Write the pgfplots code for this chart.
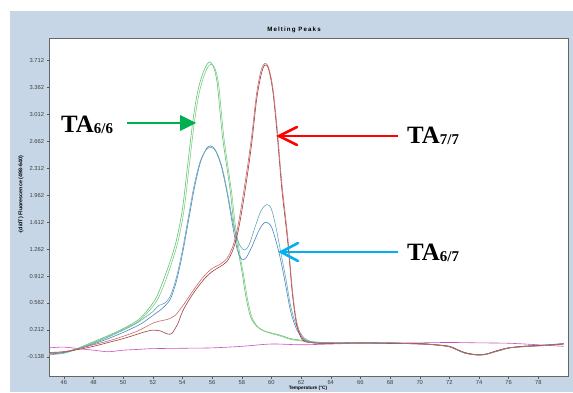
\documentclass[border=0pt]{standalone}
\usepackage{pgfplots}
\pgfplotsset{compat=1.18}
\usepackage{fontspec}
\setmainfont{Liberation Sans}
\newfontfamily\serifb{Liberation Serif}
\newfontfamily\titlefont[LetterSpace=18]{Liberation Sans}
\definecolor{panel}{HTML}{C6D6E6}
\definecolor{gA}{HTML}{5DC46E}
\definecolor{gB}{HTML}{7FCB86}
\definecolor{bA}{HTML}{4A86C4}
\definecolor{bB}{HTML}{6AA6B6}
\definecolor{rA}{HTML}{A03C3C}
\definecolor{rB}{HTML}{C86A6A}
\definecolor{mg}{HTML}{C850C0}
\definecolor{arrG}{HTML}{00B050}
\definecolor{arrR}{HTML}{FF0000}
\definecolor{arrB}{HTML}{00B0F0}
\begin{document}
\begin{tikzpicture}[x=1bp,y=1bp]
\useasboundingbox (0,0) rectangle (573,392);
\fill[panel] (10,0) rectangle (573,381);
\node[font=\titlefont\fontsize{6.2}{7}\selectfont\bfseries] at (294,362) {Melting Peaks};
\node[font=\fontsize{5.4}{6}\selectfont\bfseries, rotate=90] at (21,197) {-(d/dT) Fluorescence (498-640)};
\node[font=\fontsize{4.8}{5}\selectfont\bfseries, anchor=south, inner sep=0pt] at (308,1) {Temperature (\textdegree C)};
\begin{axis}[
  at={(49bp,16bp)}, anchor=south west,
  width=519bp, height=338bp, scale only axis,
  xmin=45, xmax=80, ymin=-0.385, ymax=4.0,
  axis background/.style={fill=white},
  axis line style={draw=gray!80!black, line width=0.8pt},
  xtick={46,48,...,78},
  xticklabels={46,48,50,52,54,56,58,60,62,64,66,68,70,72,74,76,78},
  ytick={-0.138,0.212,0.562,0.912,1.262,1.612,1.962,2.312,2.662,3.012,3.362,3.712},
  yticklabels={-0.138,0.212,0.562,0.912,1.262,1.612,1.962,2.312,2.662,3.012,3.362,3.712},
  tick align=outside, tick pos=left,
  major tick length=2.5bp,
  tick style={draw=gray!70!black, line width=0.4pt},
  ticklabel style={font=\fontsize{5.8}{6.5}\selectfont, text=black!75},
  xticklabel style={yshift=2bp},
  yticklabel style={xshift=1bp},
  every axis plot/.append style={line width=0.6pt, smooth, tension=0.5},
]
% magenta baseline
\addplot[mg] coordinates {(45,-0.02)(46,-0.01)(47,-0.03)(48,-0.05)(49,-0.07)(50,-0.05)(51,-0.04)(52,-0.03)(54,-0.025)(56,-0.02)(58,0.0)(60,0.03)(62,0.02)(64,0.03)(66,0.04)(68,0.04)(70,0.045)(72,0.05)(74,0.045)(76,0.04)(78,0.02)(79.7,0.0)};
% green TA6/6
\addplot[gA] coordinates {(45,-0.10)(46,-0.08)(47,-0.02)(48,0.06)(49,0.14)(50,0.23)(51,0.34)(51.6,0.46)(52.2,0.62)(52.7,0.85)(53.2,1.12)(53.6,1.38)(54.0,1.78)(54.35,2.35)(54.7,2.92)(55.0,3.28)(55.3,3.50)(55.6,3.64)(55.85,3.69)(56.1,3.62)(56.35,3.40)(56.7,2.72)(57.2,2.05)(57.45,1.62)(57.75,1.25)(58.0,0.98)(58.3,0.62)(58.6,0.38)(59.0,0.26)(59.5,0.20)(60.5,0.15)(61.3,0.10)(62,0.08)(62.8,0.06)(64,0.045)(66,0.045)(68,0.045)(70,0.035)(71,0.025)(72,0.0)(72.5,-0.04)(73,-0.08)(73.5,-0.10)(74,-0.11)(74.5,-0.10)(75,-0.07)(75.5,-0.045)(76,-0.02)(77,0.0)(78,0.01)(79,0.025)(79.7,0.035)};
\addplot[gB] coordinates {(45,-0.09)(46,-0.08)(47,-0.03)(48,0.05)(49,0.13)(50,0.22)(51,0.32)(51.7,0.45)(52.3,0.60)(52.8,0.82)(53.3,1.10)(53.7,1.36)(54.1,1.76)(54.45,2.33)(54.8,2.90)(55.1,3.26)(55.4,3.48)(55.7,3.62)(55.95,3.66)(56.2,3.60)(56.45,3.38)(56.8,2.70)(57.3,2.02)(57.55,1.60)(57.85,1.22)(58.1,0.95)(58.4,0.60)(58.7,0.37)(59.1,0.25)(59.6,0.19)(60.5,0.14)(61.3,0.09)(62,0.07)(62.8,0.05)(64,0.04)(66,0.04)(68,0.04)(70,0.03)(71,0.02)(72,-0.005)(72.5,-0.045)(73,-0.085)(73.5,-0.105)(74,-0.115)(74.5,-0.105)(75,-0.075)(75.5,-0.05)(76,-0.025)(77,-0.005)(78,0.005)(79,0.02)(79.7,0.03)};
% blue TA6/7
\addplot[bA] coordinates {(45,-0.10)(46,-0.08)(47,-0.03)(48,0.03)(49,0.10)(50,0.18)(51,0.27)(51.5,0.33)(52,0.40)(52.5,0.47)(52.8,0.52)(53.2,0.62)(53.6,0.85)(54.0,1.20)(54.4,1.62)(54.8,2.05)(55.2,2.38)(55.6,2.56)(55.9,2.60)(56.2,2.55)(56.6,2.35)(57.0,2.00)(57.4,1.55)(57.7,1.25)(58.0,1.13)(58.3,1.15)(58.7,1.30)(59.1,1.48)(59.4,1.58)(59.65,1.61)(60.0,1.55)(60.4,1.30)(60.7,1.05)(61.0,0.75)(61.3,0.45)(61.7,0.22)(62.2,0.09)(62.7,0.05)(63.2,0.04)(64,0.04)(66,0.045)(68,0.04)(70,0.03)(71,0.02)(72,-0.005)(72.5,-0.045)(73,-0.085)(73.5,-0.105)(74,-0.11)(74.5,-0.10)(75,-0.07)(75.5,-0.045)(76,-0.02)(77,0.0)(78,0.01)(79,0.025)(79.7,0.035)};
\addplot[bB] coordinates {(45,-0.11)(46,-0.09)(47,-0.03)(48,0.04)(49,0.12)(50,0.21)(51,0.31)(51.5,0.38)(52,0.45)(52.4,0.53)(52.8,0.56)(53.2,0.66)(53.6,0.90)(54.0,1.25)(54.4,1.68)(54.8,2.10)(55.2,2.40)(55.6,2.55)(55.95,2.58)(56.3,2.52)(56.7,2.30)(57.1,1.93)(57.5,1.52)(57.9,1.30)(58.2,1.25)(58.5,1.32)(58.9,1.55)(59.3,1.76)(59.7,1.84)(60.0,1.78)(60.3,1.55)(60.6,1.25)(61.0,0.85)(61.3,0.52)(61.7,0.26)(62.2,0.11)(62.7,0.06)(63.2,0.045)(64,0.045)(66,0.04)(68,0.045)(70,0.035)(71,0.02)(72,0.0)(72.5,-0.04)(73,-0.08)(73.5,-0.10)(74,-0.115)(74.5,-0.105)(75,-0.075)(75.5,-0.05)(76,-0.02)(77,0.0)(78,0.01)(79,0.02)(79.7,0.03)};
% red TA7/7
\addplot[rA] coordinates {(45,-0.08)(46,-0.07)(47,-0.04)(48,0.0)(49,0.05)(50,0.10)(51,0.16)(51.5,0.19)(52,0.21)(52.5,0.20)(53.0,0.16)(53.3,0.17)(53.7,0.30)(54.0,0.45)(54.5,0.62)(55.0,0.76)(55.5,0.88)(56.0,0.97)(56.5,1.03)(57.0,1.10)(57.4,1.25)(57.7,1.45)(58.0,1.75)(58.4,2.25)(58.7,2.68)(59.0,3.20)(59.3,3.52)(59.55,3.65)(59.8,3.60)(60.1,3.30)(60.4,2.72)(60.7,2.04)(61.1,1.35)(61.4,0.70)(61.7,0.28)(62.1,0.08)(62.6,0.05)(63.2,0.04)(64,0.04)(66,0.045)(68,0.04)(70,0.035)(71,0.02)(72,0.0)(72.5,-0.04)(73,-0.08)(73.5,-0.10)(74,-0.11)(74.5,-0.10)(75,-0.07)(75.5,-0.04)(76,-0.02)(77,0.0)(78,0.01)(79,0.02)(79.7,0.03)};
\addplot[rB] coordinates {(45,-0.09)(46,-0.07)(47,-0.03)(48,0.02)(49,0.07)(50,0.13)(51,0.20)(51.5,0.25)(52,0.30)(52.5,0.33)(53.0,0.35)(53.5,0.40)(54.0,0.52)(54.5,0.66)(55.0,0.80)(55.5,0.92)(56.0,1.01)(56.5,1.06)(57.0,1.14)(57.4,1.30)(57.7,1.52)(58.0,1.85)(58.4,2.35)(58.7,2.78)(59.0,3.28)(59.3,3.58)(59.55,3.67)(59.8,3.62)(60.1,3.35)(60.4,2.80)(60.7,2.12)(61.1,1.42)(61.4,0.76)(61.7,0.32)(62.1,0.10)(62.6,0.05)(63.2,0.045)(64,0.045)(66,0.04)(68,0.045)(70,0.03)(71,0.02)(72,-0.005)(72.5,-0.045)(73,-0.085)(73.5,-0.105)(74,-0.11)(74.5,-0.10)(75,-0.075)(75.5,-0.045)(76,-0.02)(77,-0.005)(78,0.005)(79,0.02)(79.7,0.035)};
\end{axis}
% annotations
\draw[arrG, line width=2.6bp] (127,269) -- (182,269);
\fill[arrG] (196,269) -- (180,277) -- (180,261) -- cycle;
\node[anchor=base west, inner sep=0pt] at (61,260) {\serifb\bfseries\fontsize{25}{25}\selectfont TA\fontsize{15}{15}\selectfont\raisebox{-1.5bp}{6/6}};
\draw[arrR, line width=2.6bp] (398,256) -- (280,256);
\draw[arrR, line width=2.6bp, line cap=round] (297,265) -- (279,256) -- (297,247);
\node[anchor=base west, inner sep=0pt] at (407,249) {\serifb\bfseries\fontsize{25}{25}\selectfont TA\fontsize{15}{15}\selectfont\raisebox{-1.5bp}{7/7}};
\draw[arrB, line width=2.6bp] (398,140) -- (282,140);
\draw[arrB, line width=2.6bp, line cap=round] (298,149) -- (281,140) -- (298,131);
\node[anchor=base west, inner sep=0pt] at (407,132) {\serifb\bfseries\fontsize{25}{25}\selectfont TA\fontsize{15}{15}\selectfont\raisebox{-1.5bp}{6/7}};
\end{tikzpicture}
\end{document}
